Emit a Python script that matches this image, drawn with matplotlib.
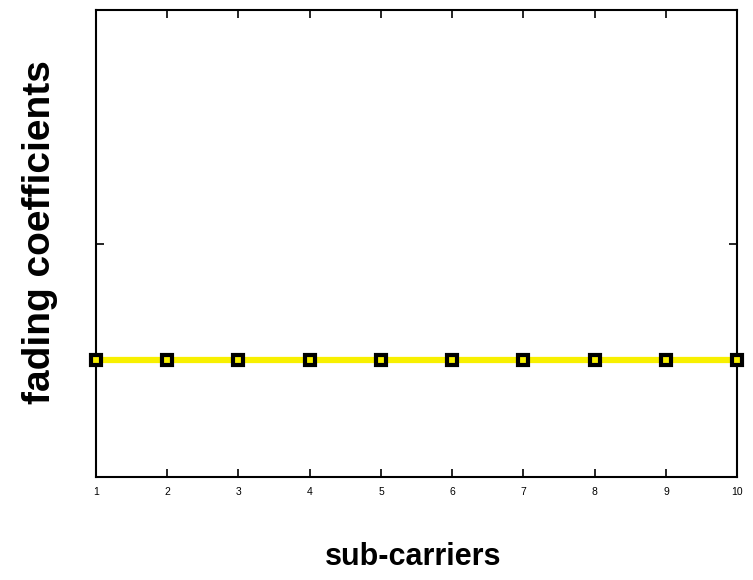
import matplotlib
matplotlib.use("Agg")
import matplotlib.pyplot as plt

# sub-carrier index and flat fading gain
subcarriers = [1, 2, 3, 4, 5, 6, 7, 8, 9, 10]
fading = [0.5, 0.5, 0.5, 0.5, 0.5, 0.5, 0.5, 0.5, 0.5, 0.5]
y_ticks = [1]

plt.rcParams['font.family'] = ['Liberation Sans', 'DejaVu Sans']

fig = plt.figure(figsize=(7.53, 5.8), dpi=100)
ax = fig.add_axes([0.1275, 0.1776, 0.8515, 0.805])

ax.plot(subcarriers, fading, color='#f8f000', linewidth=4.5, zorder=2)
ax.plot(subcarriers, fading, linestyle='none', marker='s', markersize=6.5,
        markerfacecolor='#f8f000', markeredgecolor='black', markeredgewidth=3,
        zorder=3, clip_on=False)

ax.set_xlim(1, 10)
ax.set_ylim(0, 2)
ax.set_xticks(subcarriers)
ax.set_yticks(y_ticks)
ax.set_yticklabels([])
ax.tick_params(direction='in', top=True, right=True, length=6, width=1.2,
               labelsize=7.5, pad=7)
for s in ax.spines.values():
    s.set_linewidth(1.5)

ax.set_xlabel('sub-carriers', fontsize=22, fontweight='bold')
ax.set_ylabel('fading coefficients', fontsize=28, fontweight='bold')
ax.xaxis.set_label_coords(0.494, -0.14)
ax.yaxis.set_label_coords(-0.06, 0.525)

fig.savefig('out.png', dpi=100)
